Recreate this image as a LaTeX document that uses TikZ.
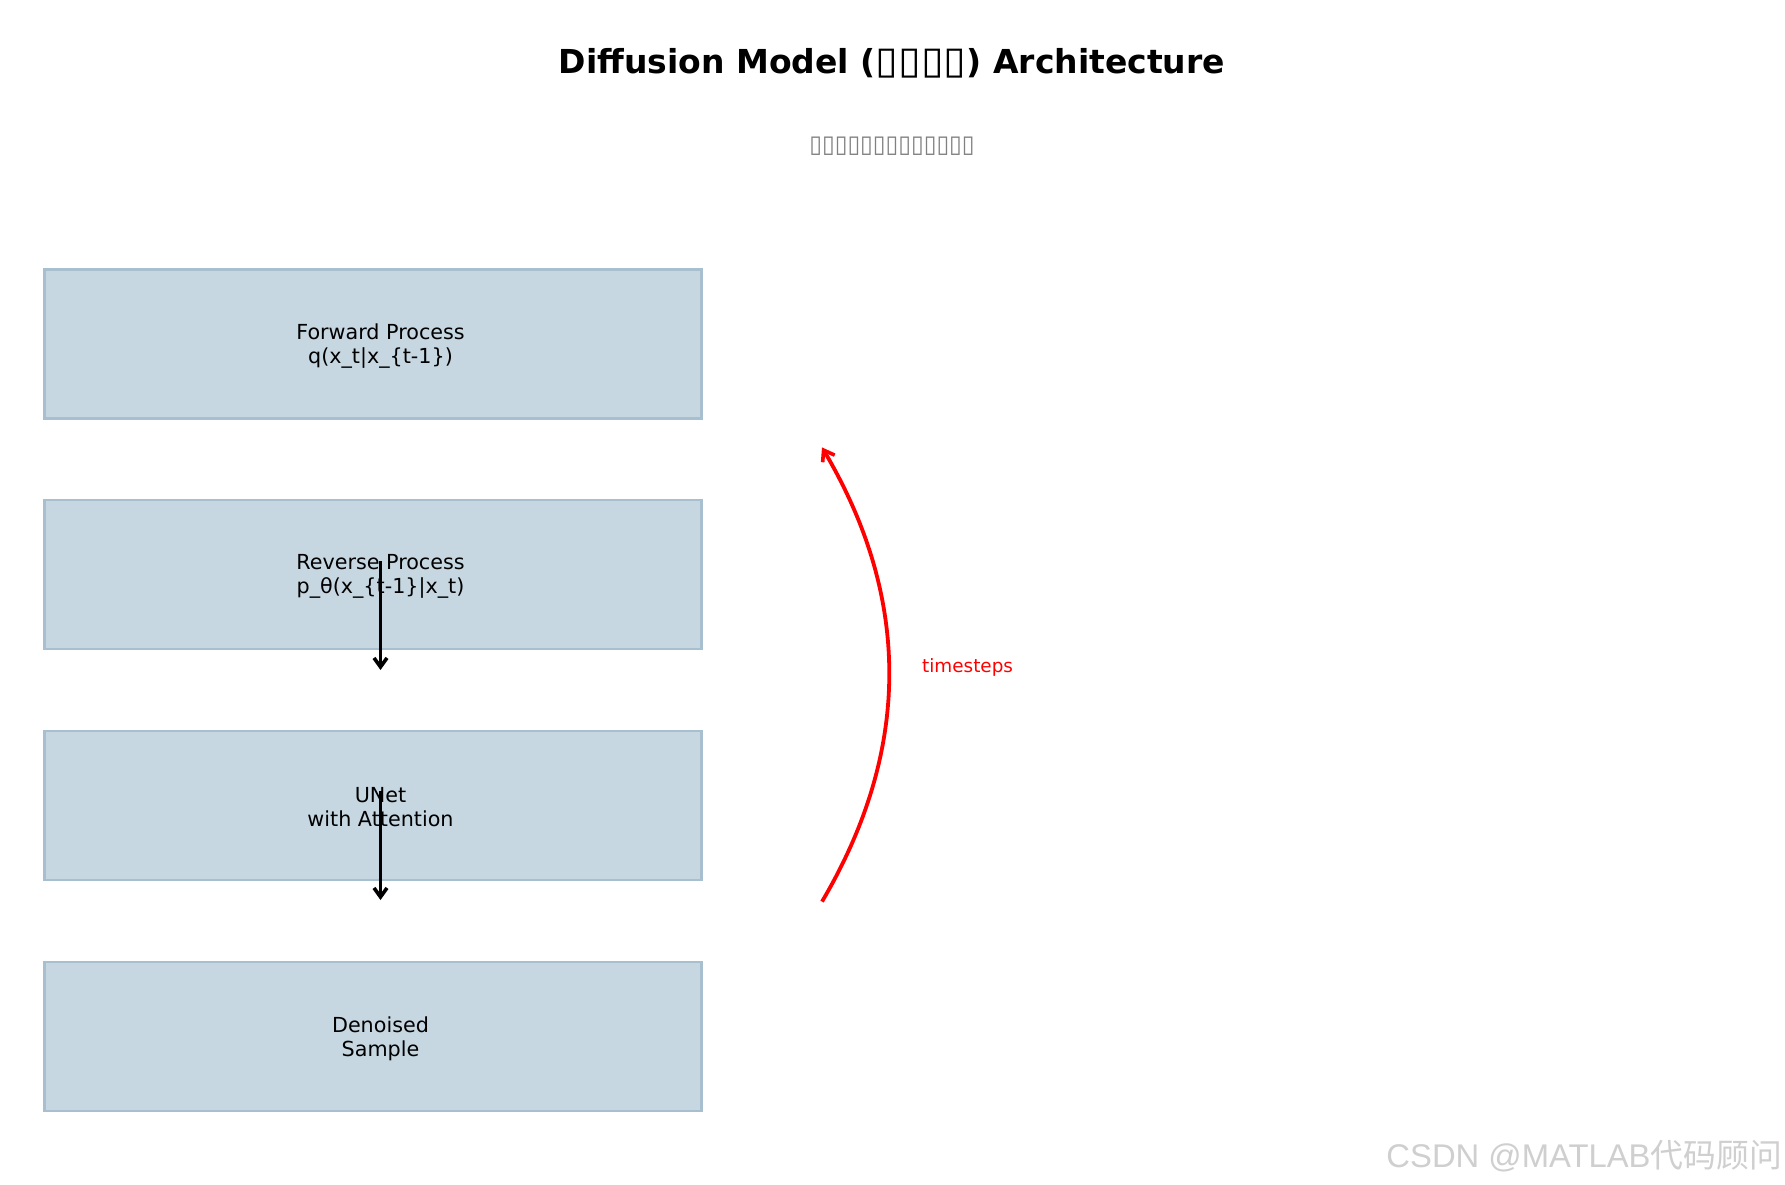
\documentclass[tikz,border=0pt]{standalone}
\usepackage{fontspec}
\setmainfont{DejaVu Sans}
\newfontfamily\wmfont{Liberation Sans}
\newfontfamily\cjkfont{Noto Sans CJK SC}
\usetikzlibrary{arrows.meta}
\definecolor{boxfill}{HTML}{C6D7E1}
\definecolor{boxedge}{HTML}{A7BFCE}
\definecolor{subgray}{HTML}{808080}
\definecolor{wmgray}{HTML}{CFCFCF}
\newcommand\tfa{\scalebox{1.25}[1.15]{▯}}
\newcommand\tfb{\scalebox{1.1}[1.15]{▯}}
\tikzset{
  stagebox/.style={draw=boxedge, fill=boxfill, line width=2.6pt, minimum width=657pt, minimum height=149pt, inner sep=0pt},
  stagetext/.style={align=center, font=\fontsize{20.7}{24.2}\selectfont, inner sep=0pt},
  flowarrow/.style={draw=black, line width=3.9pt, -{Straight Barb[length=9pt,width=13pt,line width=3.6pt]}},
  steparc/.style={draw=red, line width=3.8pt, -{Straight Barb[length=10pt,width=14pt,line width=3.6pt]}},
}
\begin{document}
\begin{tikzpicture}[x=1pt,y=-1pt]
\useasboundingbox (0,0) rectangle (1785,1185);
\fill[white] (0,0) rectangle (1785,1185);

\node[font=\fontsize{33}{38}\selectfont\bfseries, inner sep=0pt] (title) at (892,63) {Diffusion Model (\tfa\tfa\tfa\tfa) Architecture};
\node[font=\fontsize{21}{24}\selectfont, text=subgray, inner sep=0pt] (subtitle) at (892,146) {\tfb\tfb\tfb\tfb\tfb\tfb\tfb\tfb\tfb\tfb\tfb\tfb\tfb};

\node[stagebox] (b1) at (372.9,344) {};
\node[stagebox] (b2) at (372.9,574.3) {};
\node[stagebox] (b3) at (372.9,805.4) {};
\node[stagebox] (b4) at (372.9,1036.4) {};

\node[stagetext] (t1) at (380.5,346) {Forward Process\\q(x\_t|x\_\{t-1\})};
\node[stagetext] (t2) at (380.5,576.3) {Reverse Process\\p\_θ(x\_\{t-1\}|x\_t)};
\node[stagetext] (t3) at (380.5,807.4) {UNet\\with Attention};
\node[stagetext] (t4) at (380.5,1038.4) {Denoised\\Sample};

\coordinate (a1s) at (380.5,561);
\coordinate (a1e) at (380.5,670);
\coordinate (a2s) at (380.5,791);
\coordinate (a2e) at (380.5,900);
\draw[flowarrow] (a1s) -- (a1e);
\draw[flowarrow] (a2s) -- (a2e);

\coordinate (rs) at (822,901.6);
\coordinate (re) at (822,447.4);
\draw[steparc] (rs) .. controls (911.3,750.2) and (911.3,598.8) .. (re);
\node[text=red, font=\fontsize{18.4}{22}\selectfont, inner sep=0pt] (ts) at (967.6,667) {timesteps};

\node[anchor=east, text=wmgray, font=\fontsize{32.8}{38}\selectfont\wmfont, inner sep=0pt] (wm) at (1782,1156) {CSDN @MATLAB{\cjkfont 代码顾问}};
\end{tikzpicture}
\end{document}
